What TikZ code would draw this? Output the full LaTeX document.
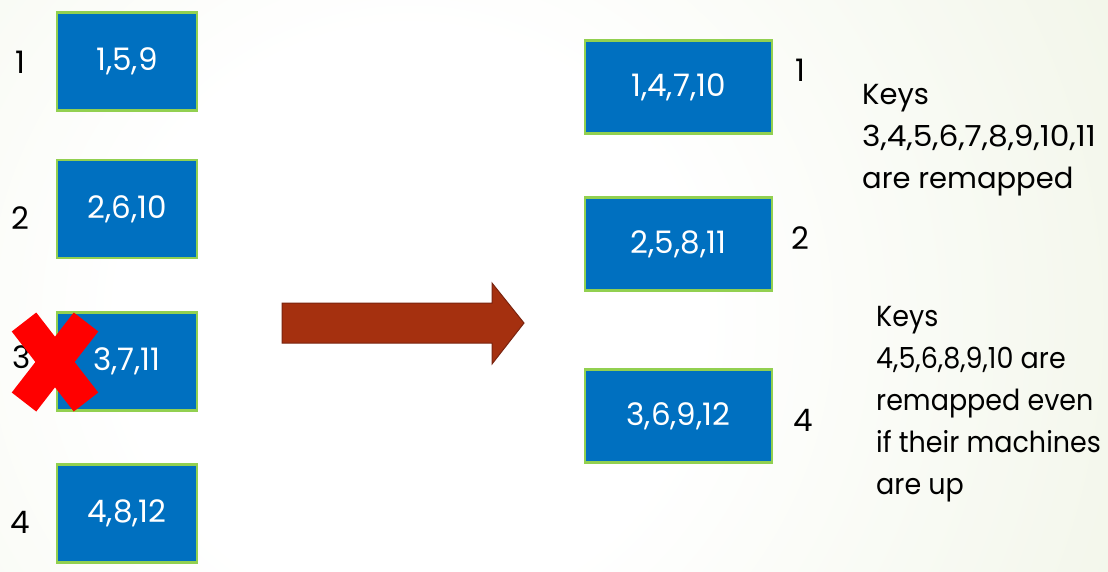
\documentclass[tikz,border=0pt]{standalone}
\usepackage{fontspec}
\setmainfont{Poppins}
\newfontfamily\widepop[FakeStretch=1.08]{Poppins}
\newfontfamily\narrowpop[FakeStretch=0.93]{Poppins}
\definecolor{boxblue}{HTML}{0070C0}
\definecolor{boxedge}{HTML}{92D050}
\definecolor{arrowfill}{HTML}{A5300F}
\definecolor{arrowedge}{HTML}{7A2410}
\definecolor{bgout}{HTML}{E3EBD0}
\definecolor{xred}{HTML}{FF0000}
\pgfdeclareradialshading{bgshade}{\pgfpoint{0bp}{0bp}}{color(0bp)=(white); color(8bp)=(white); color(38bp)=(bgout); color(50bp)=(bgout)}
\tikzset{
  keybox/.style={draw=boxedge, line width=2.2pt, fill=boxblue, text=white, minimum width=140pt, minimum height=98pt, inner sep=0pt, font=\fontsize{31}{36}\selectfont},
  rkeybox/.style={keybox, minimum width=187pt, minimum height=93pt},
  numlab/.style={font=\fontsize{31}{36}\selectfont, text=black, inner sep=0pt},
  note/.style={font=\fontsize{29}{42}\selectfont, align=left, anchor=north west, inner sep=0pt, text=black}
}
\begin{document}
\begin{tikzpicture}[x=1pt,y=-1pt]
\useasboundingbox (0,0) rectangle (1108,571);
\begin{scope}
\clip (0,0) rectangle (1108,571);
\shade[shading=bgshade] (410,320) circle (900);
\end{scope}
% left column
\node[numlab] (l1) at (20,62) {1};
\node[numlab] (l2) at (20,218) {2};
\node[numlab] (l3) at (22,357) {3};
\node[numlab] (l4) at (20,522) {4};
\node[keybox] (a1) at (127,61.5) {1,5,9};
\node[keybox] (a2) at (127,209) {2,6,10};
\node[keybox] (a3) at (127,361.5) {3,7,11};
\node[keybox] (a4) at (127,513.5) {4,8,12};
% red cross
\draw[xred, line width=31pt] (24,322) -- (86,402);
\draw[xred, line width=31pt] (86,322) -- (24,402);
% big arrow
\filldraw[fill=arrowfill, draw=arrowedge, line width=1pt, line join=miter]
  (282,303) -- (492,303) -- (492,283) -- (524,323) -- (492,364) -- (492,343) -- (282,343) -- cycle;
% right column
\node[rkeybox] (b1) at (678.5,87) {1,4,7,10};
\node[rkeybox] (b2) at (678.5,244) {2,5,8,11};
\node[rkeybox] (b3) at (678.5,416) {3,6,9,12};
\node[numlab] (r1) at (800,70) {1};
\node[numlab] (r2) at (800,238) {2};
\node[numlab] (r4) at (803,420) {4};
% notes
\node[note] (n1) at (862,84) {Keys\\{\widepop 3,4,5,6,7,8,9,10,11}\\are remapped};
\node[note, font=\fontsize{29}{42}\selectfont\narrowpop] (n2) at (876,306) {Keys\\4,5,6,8,9,10 are\\remapped even\\if their machines\\are up};
\end{tikzpicture}
\end{document}
